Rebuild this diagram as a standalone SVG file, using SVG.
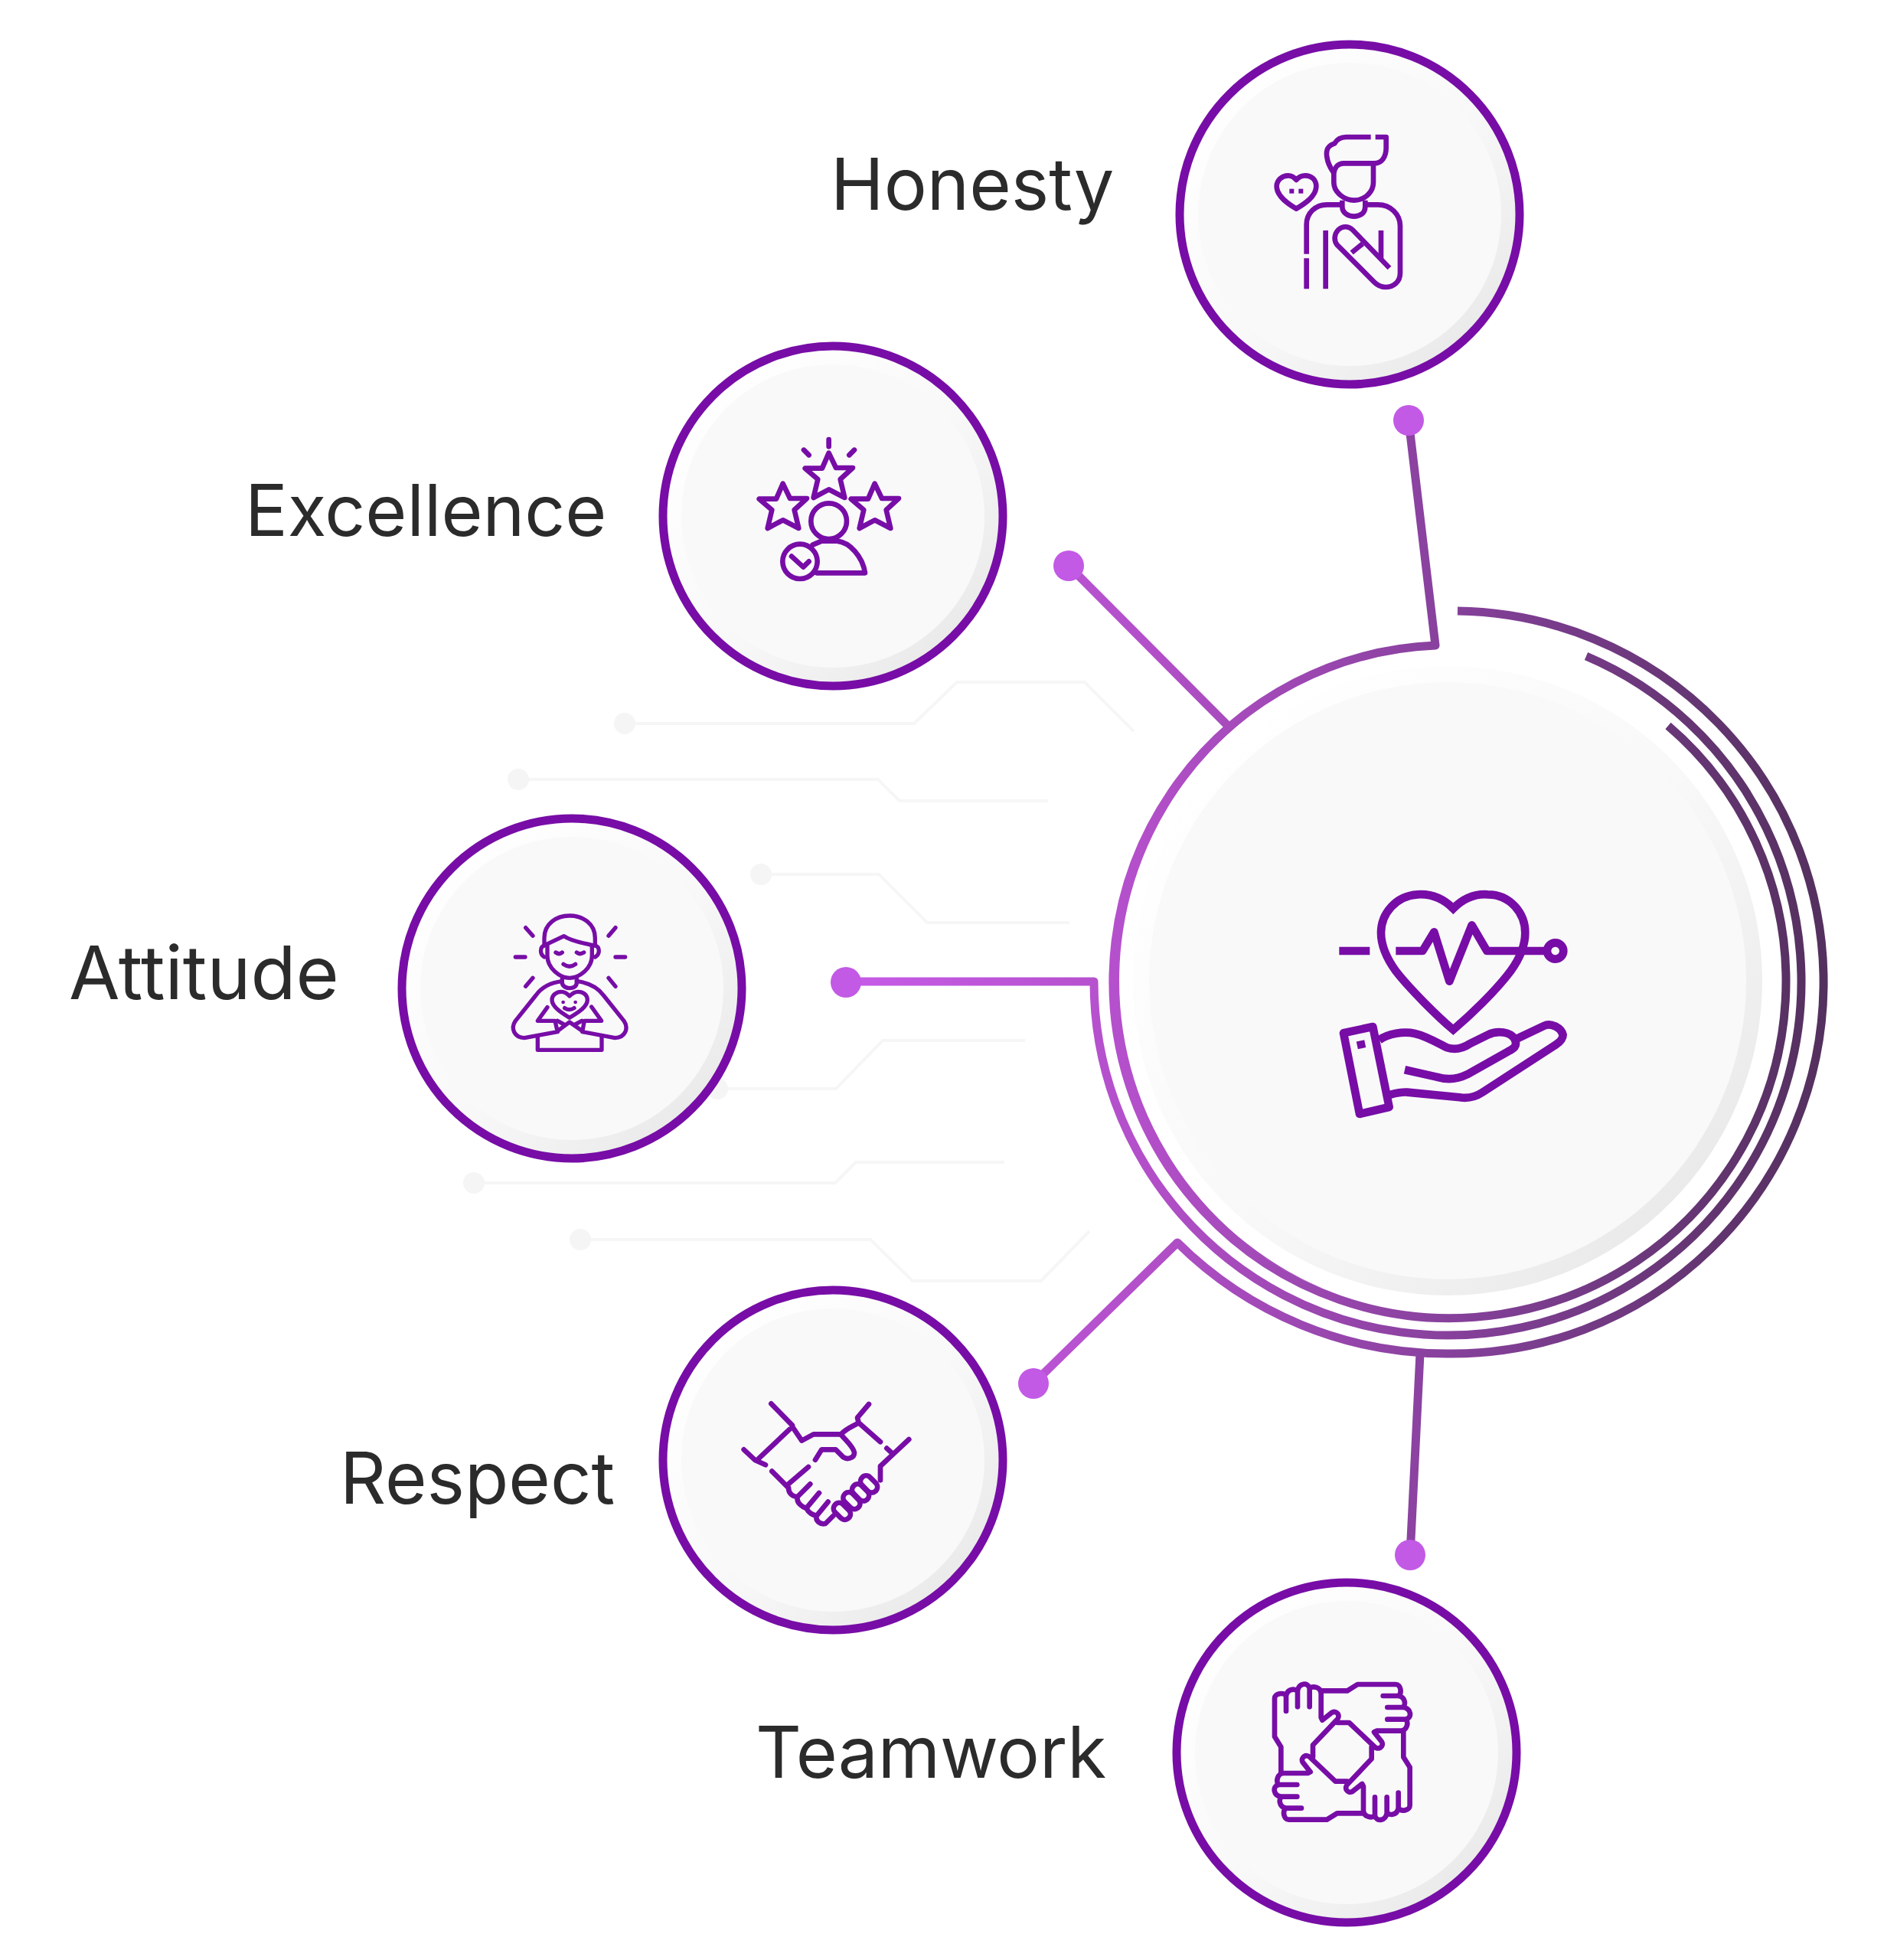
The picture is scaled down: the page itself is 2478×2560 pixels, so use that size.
<svg xmlns="http://www.w3.org/2000/svg" xmlns:xlink="http://www.w3.org/1999/xlink" width="2478" height="2560" viewBox="0 0 2478 2560">
<style>
.bg{fill:#fff}
.lbl{font-family:Inter,"Liberation Sans",sans-serif;font-size:93.700px;fill:#2b2b2b}
.trace{fill:none;stroke:#f6f6f6;stroke-width:4}
.tdot{fill:#f5f5f5}
.ring{fill:url(#shade);stroke:#770da6;stroke-width:11}
.core{fill:#f9f9fa}
.ico{fill:none;stroke:#770da6;stroke-linecap:round;stroke-linejoin:round}
.fillp{fill:#770da6;stroke:none}
.conn{fill:none;stroke:url(#line);stroke-width:11;stroke-linejoin:round}
.pin{fill:#c25ae5}
</style>
<defs>
<linearGradient id="line" gradientUnits="userSpaceOnUse" x1="1100" y1="1283" x2="2380" y2="1283">
<stop offset="0" stop-color="#c65be8"/><stop offset=".31" stop-color="#b34fc9"/><stop offset=".63" stop-color="#85409a"/><stop offset="1" stop-color="#54305e"/>
</linearGradient>
<linearGradient id="shade" x1=".12" y1=".12" x2=".88" y2=".88">
<stop offset="0" stop-color="#ffffff"/><stop offset=".55" stop-color="#f8f8f8"/><stop offset="1" stop-color="#e9e9e9"/>
</linearGradient>
<path id="star" d="M368 125L396 183H462L413 228L430 300L368 268L308 300L325 228L275 185H342Z"/>
<path id="hand" d="M100 408V305L75 265V115C75 95 110 90 120 105V165M120 105C125 75 160 75 165 90V148M165 85C170 55 205 50 212 75V148M212 75C225 65 255 70 257 95V190L262 200L300 170C320 160 335 185 318 200L225 298V345"/>
</defs>
<rect class="bg" width="2478" height="2560"/>

<g id="traces">
<path class="trace" d="M816 945H1194L1250 891H1417L1481 955"/><circle class="tdot" cx="816" cy="945" r="14"/>
<path class="trace" d="M677 1018H1147L1175 1046H1369"/><circle class="tdot" cx="677" cy="1018" r="14"/>
<path class="trace" d="M994 1142H1148L1211 1205H1397"/><circle class="tdot" cx="994" cy="1142" r="14"/>
<path class="trace" d="M937 1422H1092L1153 1359H1339"/><circle class="tdot" cx="937" cy="1422" r="14"/>
<path class="trace" d="M619 1545H1091L1118 1518H1312"/><circle class="tdot" cx="619" cy="1545" r="14"/>
<path class="trace" d="M758 1619H1137L1192 1673H1360L1423 1608"/><circle class="tdot" cx="758" cy="1619" r="14"/>
</g>

<g id="connectors">
<path class="conn" d="M1904 798A485 485 0 0 1 1890 1768A500 500 0 0 1 1538 1623L1350 1807"/>
<path class="conn" d="M2072 857A462 462 0 1 1 1429 1282H1105"/>
<path class="conn" d="M2179 948A439.500 439.500 0 1 1 1875 843L1840 549"/>
<path d="M1743 873A434 434 0 0 0 1743 1689A436.700 436.700 0 0 1 1743 873Z" fill="url(#line)"/>
<path class="conn" d="M1606 950L1396 739"/>
<path class="conn" d="M1855 1768L1842 2031"/>
<circle class="pin" cx="1840" cy="549" r="20"/>
<circle class="pin" cx="1396" cy="739" r="20"/>
<circle class="pin" cx="1105" cy="1283" r="20"/>
<circle class="pin" cx="1350" cy="1807" r="20"/>
<circle class="pin" cx="1842" cy="2031" r="20"/>
</g>

<g id="center">
<circle cx="1891" cy="1281" r="411" fill="url(#shade)"/>
<circle class="core" cx="1891" cy="1281" r="390"/>
<g transform="translate(1720 1140) scale(.3333)" class="ico" stroke-width="32" style="stroke-linecap:butt;stroke-linejoin:round">
<path stroke-linejoin="miter" d="M535 140C490 95 440 82 395 85C310 90 252 160 252 235C252 280 270 330 310 385C360 450 470 560 535 615C600 560 700 465 760 385C800 330 817 280 817 235C817 160 760 85 670 85C625 82 580 95 535 140Z"/>
<path d="M88 306H208M310 306H415L460 232L520 425L608 205L667 306H900"/>
<circle cx="935" cy="306" r="32"/>
<path d="M105 628L220 603L284 918L168 945Z"/>
<rect class="fillp" x="158" y="658" width="32" height="30" transform="rotate(-12 174 673)"/>
<path d="M245 655C280 630 340 620 385 630C430 640 480 670 510 685C540 695 570 690 600 670L670 635C710 615 760 625 775 650C790 680 770 690 750 700L590 790C560 805 520 815 470 800L345 772"/>
<path d="M785 650L890 600C920 585 960 610 965 635C965 650 950 665 935 675L650 860C620 880 590 885 560 880L355 860C330 858 305 865 285 870"/>
</g>
</g>

<g id="honesty">
<circle class="ring" cx="1763" cy="280" r="222"/><circle class="core" cx="1763" cy="280" r="198"/>
<text class="lbl" x="1085" y="274">Honesty</text>
<g transform="translate(1620 130) scale(.3333)" class="ico" stroke-width="20" style="stroke-linecap:butt">
<path d="M512 147H415C392 147 378 158 370 172C345 180 335 195 340 225C343 250 355 270 365 285"/>
<path d="M530 147H572V190C572 225 555 250 525 250H405C385 250 370 265 367 290V325C367 365 410 395 447 395C485 395 522 365 522 325V250"/>
<path d="M400 395V420C400 445 425 458 447 458C470 458 490 445 490 420V395"/>
<path d="M260 605V490C260 445 295 412 340 412H400M490 412H540C590 412 627 450 627 495V680C627 715 600 735 570 735C550 735 535 725 525 715L380 570C365 550 370 525 385 510C400 495 425 495 440 510L585 660"/>
<path d="M260 622V742M335 513V742M552 513V625M437 600L480 565"/>
<path d="M220 428C190 410 143 380 143 340C143 315 165 298 188 298C200 298 212 305 220 315C228 305 240 298 255 298C280 298 298 315 298 340C298 380 250 410 220 428Z"/>
<rect class="fillp" x="193" y="350" width="18" height="18"/><rect class="fillp" x="229" y="350" width="18" height="18"/>
</g>
</g>

<g id="excellence">
<circle class="ring" cx="1088" cy="674" r="222"/><circle class="core" cx="1088" cy="674" r="198"/>
<text class="lbl" x="320" y="700" style="font-size:92.800px">Excellence</text>
<g transform="translate(960 550) scale(.3333)" class="ico" stroke-width="20">
<use xlink:href="#star" href="#star"/><use xlink:href="#star" href="#star" x="-180" y="120"/><use xlink:href="#star" href="#star" x="180" y="120"/>
<path d="M368 72V100M270 113L290 133M468 113L448 133"/>
<circle cx="368" cy="392" r="70"/>
<path d="M320 595H510C500 530 450 475 400 470H340L305 485"/>
<circle cx="255" cy="550" r="68"/>
<path d="M222 530L268 572L290 550"/>
</g>
</g>

<g id="attitude">
<circle class="ring" cx="747" cy="1291" r="222"/><circle class="core" cx="747" cy="1291" r="198"/>
<text class="lbl" x="90" y="1305" style="font-size:96.500px">Attitude</text>
<g transform="translate(640 1170) scale(.3333)" class="ico" stroke-width="16">
<path d="M213 195V165C213 110 260 78 312 78C365 78 412 110 412 165V195"/>
<path d="M222 190L290 158C320 180 370 185 405 195"/>
<path d="M225 195V235C225 285 275 322 312 322C350 322 400 285 400 235V195"/>
<path d="M213 195C195 200 195 230 213 240M412 195C432 200 432 230 412 240"/>
<path d="M258 222Q272 232 283 222M340 222Q352 232 368 222M288 268Q312 285 335 268"/>
<path d="M140 125L168 157M492 125L465 157M100 240H138M492 240H530M140 355L168 322M465 322L492 355"/>
<path d="M283 325V340C283 355 300 362 313 362C328 362 340 355 340 340V325"/>
<path d="M283 335C240 340 205 355 180 390L100 490C80 520 95 555 135 557L265 533L255 490H187L225 437"/>
<path d="M340 335C385 340 420 355 445 390L525 490C545 520 530 555 490 557L362 533L370 490H437L398 435"/>
<path d="M265 490L292 505M360 490L332 505M265 530L312 495L362 530"/>
<path d="M312 478C280 458 243 435 243 408C243 388 262 376 280 376C295 376 305 385 312 393C320 385 330 376 345 376C365 376 382 388 382 408C382 435 345 458 312 478Z"/>
<circle class="fillp" cx="287" cy="417" r="7"/><circle class="fillp" cx="335" cy="417" r="7"/>
<path d="M293 440Q312 452 330 440"/>
<path d="M187 550V604H438V550"/>
</g>
</g>

<g id="respect">
<circle class="ring" cx="1088" cy="1907" r="222"/><circle class="core" cx="1088" cy="1907" r="198"/>
<text class="lbl" x="444" y="1964">Respect</text>
<g transform="translate(950 1810) scale(.3333)" class="ico" stroke-width="20">
<path d="M172 70L255 155M245 170L118 290M65 250L110 292L150 310M255 160L292 215L338 190H445"/>
<path d="M445 190C465 215 495 240 498 262C498 285 470 290 455 280L425 250H370L345 290"/>
<path d="M445 190C470 165 490 160 515 145L510 125L555 72M515 145L600 220M625 245L650 268L712 210M650 268L600 315V370"/>
<path d="M175 335L240 400M240 385L318 318M240 400C240 425 260 435 275 435L325 385M275 435C270 460 295 475 310 480L360 420M310 480C320 500 335 505 350 510L395 455M350 510C345 530 365 545 385 540L415 510"/>
<rect x="412" y="470" width="75" height="44" rx="22" transform="rotate(45 450 492)"/>
<rect x="450" y="428" width="75" height="44" rx="22" transform="rotate(45 487 450)"/>
<rect x="485" y="396" width="75" height="44" rx="22" transform="rotate(45 522 418)"/>
<rect x="518" y="363" width="75" height="44" rx="22" transform="rotate(45 555 385)"/>
</g>
</g>

<g id="teamwork">
<circle class="ring" cx="1759" cy="2289" r="222"/><circle class="core" cx="1759" cy="2289" r="198"/>
<text class="lbl" x="987" y="2322" style="font-size:92.800px">Teamwork</text>
<g transform="translate(1640 2180) scale(.3333)" class="ico" stroke-width="20">
<use xlink:href="#hand" href="#hand"/>
<use xlink:href="#hand" href="#hand" transform="rotate(90 340 325)"/>
<use xlink:href="#hand" href="#hand" transform="rotate(180 340 325)"/>
<use xlink:href="#hand" href="#hand" transform="rotate(270 340 325)"/>
</g>
</g>
</svg>
